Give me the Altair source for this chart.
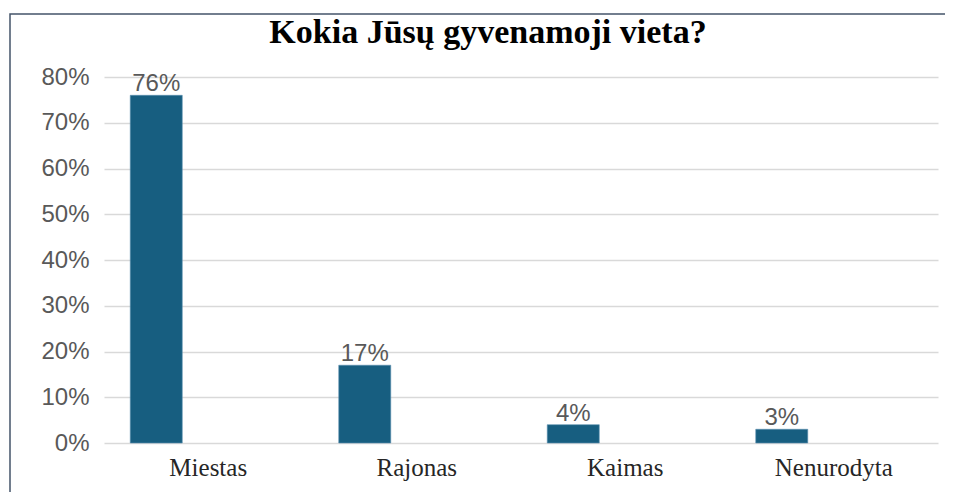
import altair as alt
import pandas as pd

categories = ["Miestas", "Rajonas", "Kaimas", "Nenurodyta"]
values = [0.76, 0.17, 0.04, 0.03]
labels = ["76%", "17%", "4%", "3%"]
title_text = "Kokia Jūsų gyvenamoji vieta?"

df = pd.DataFrame({"cat": categories, "val": values, "lab": labels})

x = alt.X("cat:N", sort=categories, title=None,
          scale=alt.Scale(paddingInner=0, paddingOuter=0),
          axis=alt.Axis(labelAngle=0, labelFont="Liberation Serif", labelFontSize=25,
                        labelColor="#262626", labelPadding=12, ticks=False, domain=False,
                        grid=False))
y = alt.Y("val:Q", title=None,
          scale=alt.Scale(domain=[0, 0.8], nice=False),
          axis=alt.Axis(format=".0%", values=[0, 0.1, 0.2, 0.3, 0.4, 0.5, 0.6, 0.7, 0.8],
                        labelFont="Liberation Sans", labelFontSize=24, labelColor="#595959",
                        labelPadding=15, ticks=False, domain=False,
                        gridColor="#d9d9d9", gridWidth=1.5))

bars = alt.Chart(df).mark_bar(width=52, xOffset=-52, color="#175e80",
                              stroke="#5b8fae", strokeWidth=0.6).encode(x=x, y=y)
text = alt.Chart(df).mark_text(xOffset=-52, dy=1, baseline="bottom", font="Liberation Sans",
                               fontSize=24, color="#595959").encode(
    x=alt.X("cat:N", sort=categories), y="val:Q", text="lab:N")

frame = alt.Chart(alt.Data(values=[{}])).mark_rect(
    fill="transparent", stroke="#44546a", strokeWidth=1.5).encode(
    x=alt.value(-94), x2=alt.value(900), y=alt.value(-63), y2=alt.value(440))

title = alt.Chart(alt.Data(values=[{"t": title_text}])).mark_text(
    font="Liberation Serif", fontSize=34, fontWeight="bold", color="#000000",
    align="center", baseline="alphabetic").encode(
    x=alt.value(384), y=alt.value(-34), text="t:N")

chart = alt.layer(frame, bars, text, title).properties(
    width=834, height=366,
    autosize=alt.AutoSizeParams(type="none"),
    padding={"left": 96, "top": 69, "right": 7, "bottom": 49},
).configure_view(stroke=None)

chart.save("out.html", embed_options={"renderer": "svg", "actions": False})
